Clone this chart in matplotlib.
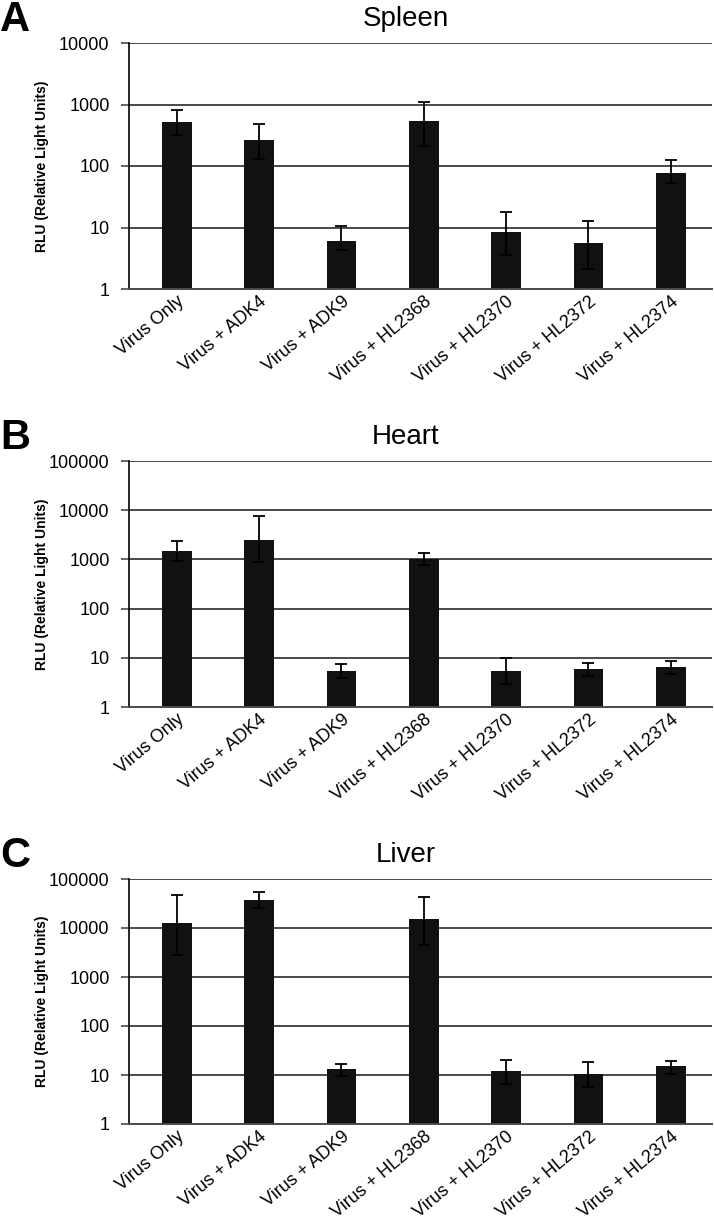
import matplotlib.pyplot as plt
import numpy as np
from matplotlib import font_manager

categories = ["Virus Only", "Virus + ADK4", "Virus + ADK9", "Virus + HL2368",
              "Virus + HL2370", "Virus + HL2372", "Virus + HL2374"]

# Spleen
spleen_mean = [515, 263, 6.1, 542, 8.5, 5.6, 78]
spleen_low = [316, 132, 4.3, 212, 3.6, 2.1, 52]
spleen_high = [809, 484, 10.6, 1080, 17.8, 12.8, 127]

# Heart
heart_mean = [1480, 2480, 5.3, 1000, 5.5, 5.8, 6.4]
heart_low = [910, 900, 3.8, 760, 2.9, 4.3, 4.7]
heart_high = [2330, 7700, 7.4, 1370, 9.7, 7.7, 8.5]

# Liver
liver_mean = [12700, 38000, 13.1, 15000, 11.9, 10.5, 15.5]
liver_low = [2800, 26000, 9.4, 4500, 6.7, 5.8, 10.5]
liver_high = [48000, 55000, 17, 42000, 20, 18.8, 19.7]

panels = [
    ("A", "Spleen", spleen_mean, spleen_low, spleen_high, 4),
    ("B", "Heart", heart_mean, heart_low, heart_high, 5),
    ("C", "Liver", liver_mean, liver_low, liver_high, 5),
]

plt.rcParams["font.family"] = ["Liberation Sans", "DejaVu Sans"]

installed = {f.name for f in font_manager.fontManager.ttflist}
narrow = "Liberation Sans Narrow" if "Liberation Sans Narrow" in installed else "Liberation Sans"

W, H = 714, 1226
fig = plt.figure(figsize=(W / 100, H / 100), dpi=100)

# (top, bottom) of each plot area in pixels
boxes = [(43, 289), (461, 707), (879, 1124)]
left_px, right_px = 129, 712

for (letter, title, mean, low, high, top_exp), (top_px, bot_px) in zip(panels, boxes):
    ax = fig.add_axes([left_px / W, 1 - bot_px / H,
                       (right_px - left_px) / W, (bot_px - top_px) / H])
    mean = np.array(mean)
    yerr = [mean - np.array(low), np.array(high) - mean]
    x = np.arange(len(categories))
    ax.set_yscale("log")
    ax.set_ylim(1, 10 ** top_exp)
    ax.set_xlim(-0.58, 6.5)
    ticks = [10 ** k for k in range(top_exp + 1)]
    ax.set_yticks(ticks)
    ax.set_yticklabels([str(t) for t in ticks])
    ax.yaxis.set_minor_locator(plt.NullLocator())
    for t in ticks[1:]:
        ax.axhline(t, color="#4a4a4a", lw=1.4, zorder=1)
    ax.bar(x, mean, width=0.36, color="#111111", zorder=2)
    ax.errorbar(x, mean, yerr=yerr, fmt="none", ecolor="black",
                elinewidth=1.3, capsize=4, capthick=1.3, zorder=3)
    for s in ["top", "right"]:
        ax.spines[s].set_visible(False)
    ax.spines["left"].set_linewidth(1.2)
    ax.spines["bottom"].set_color("#4a4a4a")
    ax.spines["bottom"].set_linewidth(1.4)
    ax.tick_params(axis="y", length=6, width=1.2, color="#4a4a4a",
                   labelsize=13, pad=8)
    ax.tick_params(axis="x", length=0, pad=3)
    ax.set_xticks(x)
    ax.set_xticklabels(categories, rotation=40, ha="right",
                       rotation_mode="anchor", fontsize=13, family=narrow)
    ax.set_ylabel("RLU (Relative Light Units)", fontsize=10, fontweight="bold")
    ax.yaxis.set_label_coords(-0.137, 0.5)
    fig.text(406 / W, 1 - (top_px - 24) / H, title, fontsize=20, family=narrow,
             ha="center", va="center")
    fig.text(0.0, 1 - (top_px - 23) / H, letter, fontsize=30, family=narrow,
             fontweight="bold", ha="left", va="center")

fig.savefig("out.png", dpi=100)
